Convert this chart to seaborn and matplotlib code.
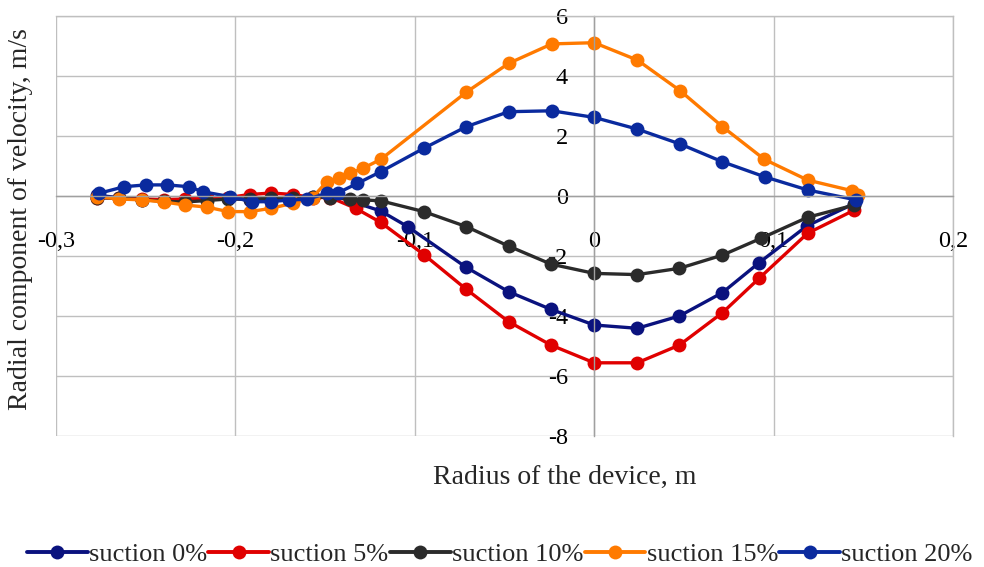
import numpy as np
import pandas as pd
import matplotlib
matplotlib.use("Agg")
import matplotlib.pyplot as plt
import seaborn as sns
from matplotlib.ticker import FuncFormatter, MultipleLocator
from matplotlib.lines import Line2D

labels = ["suction 0%", "suction 5%", "suction 10%", "suction 15%", "suction 20%"]
colors = ["#0A127E", "#E00000", "#2B2B2B", "#FF7A00", "#0A2A9E"]

left_x = [-0.277, -0.265, -0.252, -0.240, -0.228, -0.216, -0.204, -0.192, -0.180, -0.168, -0.157]

x_s0 = left_x + [-0.147, -0.119, -0.104, -0.0713, -0.0477, -0.0241, 0.0, 0.024, 0.0475, 0.0715, 0.0916, 0.1185, 0.145]
y_s0 = [0.02, -0.05, -0.12, -0.15, -0.12, -0.05, -0.08, -0.12, -0.10, -0.05, -0.02,
        0.05, -0.5, -1.02, -2.38, -3.19, -3.78, -4.3, -4.41, -4.0, -3.22, -2.24, -1.0, -0.25]

x_s5 = left_x + [-0.147, -0.133, -0.119, -0.095, -0.0713, -0.0477, -0.0241, 0.0, 0.024, 0.0475, 0.0715, 0.092, 0.119, 0.145]
y_s5 = [-0.05, -0.08, -0.1, -0.12, -0.1, -0.08, -0.05, 0.05, 0.1, 0.05, -0.05,
        -0.05, -0.41, -0.88, -1.95, -3.11, -4.19, -4.97, -5.56, -5.56, -4.97, -3.89, -2.74, -1.24, -0.47]

x_s10 = left_x + [-0.147, -0.136, -0.129, -0.119, -0.095, -0.0713, -0.0477, -0.0241, 0.0, 0.024, 0.0475, 0.0715, 0.093, 0.119, 0.145]
y_s10 = [-0.05, -0.08, -0.12, -0.18, -0.2, -0.15, -0.1, -0.1, -0.08, -0.05, -0.03,
         -0.05, -0.1, -0.13, -0.16, -0.52, -1.02, -1.67, -2.27, -2.58, -2.62, -2.41, -1.97, -1.41, -0.71, -0.3]

x_s15 = left_x + [-0.149, -0.142, -0.136, -0.129, -0.119, -0.0713, -0.0477, -0.0236, 0.0, 0.0241, 0.0479, 0.0715, 0.0949, 0.119, 0.1435, 0.147]
y_s15 = [-0.02, -0.1, -0.13, -0.2, -0.3, -0.37, -0.52, -0.52, -0.41, -0.24, -0.05,
         0.48, 0.59, 0.76, 0.92, 1.22, 3.46, 4.42, 5.07, 5.11, 4.53, 3.51, 2.31, 1.22, 0.53, 0.18, 0.03]

x_s20 = [-0.276, -0.262, -0.250, -0.238, -0.226, -0.218, -0.203, -0.191, -0.180, -0.170, -0.160, -0.149, -0.143,
         -0.132, -0.119, -0.095, -0.0713, -0.0477, -0.0236, 0.0, 0.024, 0.048, 0.0715, 0.095, 0.119, 0.146]
y_s20 = [0.09, 0.31, 0.37, 0.37, 0.31, 0.14, -0.02, -0.19, -0.19, -0.13, -0.11, 0.09, 0.1,
         0.42, 0.81, 1.59, 2.31, 2.81, 2.84, 2.62, 2.23, 1.73, 1.14, 0.64, 0.2, -0.13]

xs = [x_s0, x_s5, x_s10, x_s15, x_s20]
ys = [y_s0, y_s5, y_s10, y_s15, y_s20]

x_ticks = [-0.3, -0.2, -0.1, 0.0, 0.1, 0.2]
y_ticks = [-8, -6, -4, -2, 0, 2, 4, 6]

frames = []
for lab, xv, yv in zip(labels, xs, ys):
    frames.append(pd.DataFrame({"x": xv, "y": yv, "series": lab}))
df = pd.concat(frames, ignore_index=True)

sns.set_style("white")
plt.rcParams["font.family"] = ["Liberation Serif", "DejaVu Serif"]

fig = plt.figure(figsize=(9.84, 5.67), dpi=100)
ax = fig.add_axes([56 / 984, 1 - 436 / 567, (953 - 56) / 984, 420 / 567])

for lab, col in zip(labels, colors):
    sub = df[df["series"] == lab]
    sns.lineplot(data=sub, x="x", y="y", ax=ax, color=col, marker="o", markersize=10,
                 markeredgewidth=0, linewidth=2.4, estimator=None, sort=False, legend=False)

ax.set_xlim(-0.3, 0.2)
ax.set_ylim(-8, 6)
ax.set_xticks(x_ticks)
ax.set_yticks(y_ticks)

def fmt(v, pos):
    s = f"{v:g}"
    if s == "-0":
        s = "0"
    return s.replace(".", ",")

ax.xaxis.set_major_formatter(FuncFormatter(fmt))
ax.yaxis.set_major_formatter(FuncFormatter(fmt))

ax.grid(True, color="#BFBFBF", linewidth=1.0)
ax.set_axisbelow(True)
for s in ["top", "right"]:
    ax.spines[s].set_color("#BFBFBF")
    ax.spines[s].set_linewidth(1.0)
ax.spines["left"].set_position(("data", 0))
ax.spines["bottom"].set_position(("data", 0))
for s in ["left", "bottom"]:
    ax.spines[s].set_color("#A0A0A0")
    ax.spines[s].set_linewidth(1.0)

ax.tick_params(axis="y", length=0, pad=19, labelsize=17.5, colors="black")
ax.tick_params(axis="x", length=0, pad=25, labelsize=17.5, colors="black")

ax.set_xlabel("Radius of the device, m", fontsize=20)
ax.set_ylabel("Radial component of velocity, m/s", fontsize=20)
ax.xaxis.set_label_coords(0.567, -0.068)
ax.yaxis.set_label_coords(-0.026, 0.517)

handles = [Line2D([0], [0], color=c, marker="o", markersize=10, markeredgewidth=0, linewidth=2.8)
           for c in colors]
fig.legend(handles, labels, loc="upper center", bbox_to_anchor=(0.508, 1 - 543 / 567), ncol=5,
           frameon=False, fontsize=19, handlelength=2.3, handletextpad=0.05, columnspacing=0.05,
           borderpad=0, borderaxespad=0)

fig.savefig("out.png", dpi=100)
